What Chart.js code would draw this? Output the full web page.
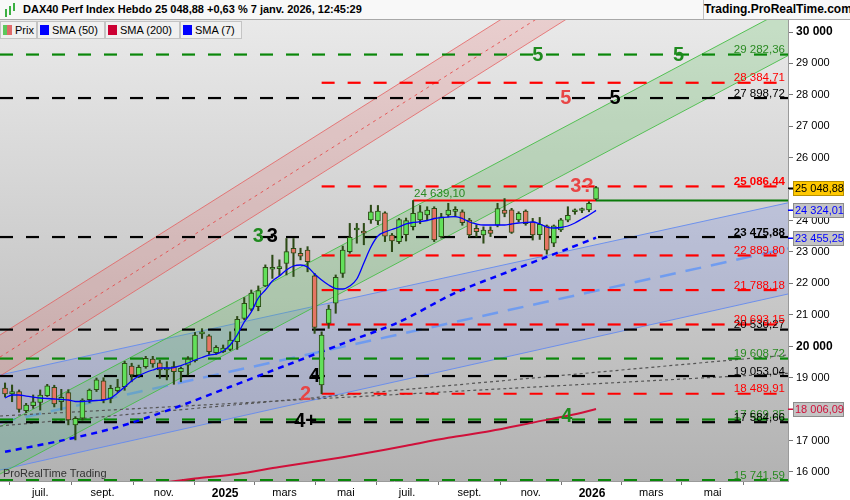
<!DOCTYPE html>
<html>
<head>
<meta charset="utf-8">
<script src="https://cdn.jsdelivr.net/npm/chart.js@4.4.1/dist/chart.umd.min.js"></script>
<style>
    body { margin: 0; background: #fff; font-family: "Liberation Sans", Arial, sans-serif; }
    #wrap { position: relative; width: 850px; height: 500px; overflow: hidden; }
    #c { position: absolute; left: 0; top: 0; }
    #hdr { position: absolute; left: 0; top: 0; width: 850px; height: 20px; background: #f8f8f8; border-bottom: 1px solid #a8a8a8; box-sizing: border-box; }
    #hdr .title { position: absolute; left: 23px; top: 3px; font-size: 11px; font-weight: bold; color: #000; white-space: nowrap; }
    #hdr .ico i { position: absolute; width: 2px; background: #3cb043; }
    #brand { position: absolute; right: 0; top: 0; width: 146px; height: 19px; background: #f8f8f8; border-left: 1px solid #c0c0c0; font-size: 12px; font-weight: bold; text-align: center; line-height: 19px; }
    #leg { position: absolute; left: 0; top: 21px; height: 18px; }
    #leg .b { position: absolute; top: 0; height: 18px; background: #f0f0f0; border: 1px solid #c4c4c4; box-sizing: border-box; font-size: 11px; line-height: 16px; padding-left: 14px; white-space: nowrap; }
    #leg .b s { position: absolute; left: 2px; top: 3px; width: 9px; height: 10px; }
    #wm { position: absolute; left: 3px; top: 467px; font-size: 11px; color: #333; }
</style>
</head>
<body>
<div id="wrap">
    <canvas id="c" width="850" height="500"></canvas>
    <div id="hdr">
        <span class="ico">
            <i style="left:5px;top:9px;height:8px"></i>
            <i style="left:9px;top:6px;height:9px"></i>
            <i style="left:13px;top:3px;height:8px"></i>
        </span>
        <span class="title">DAX40 Perf Index Hebdo 25 048,88 +0,63 % 7 janv. 2026, 12:45:29</span>
    </div>
    <div id="brand">Trading.ProRealTime.com</div>
    <div id="leg">
        <div class="b" style="left:0;width:37px"><s style="background:linear-gradient(90deg,#5cc85c 50%,#e06a6a 50%)"></s>Prix</div>
        <div class="b" style="left:37px;width:68px"><s style="background:#0000ff"></s>SMA (50)</div>
        <div class="b" style="left:105px;width:75px"><s style="background:#cc0033"></s>SMA (200)</div>
        <div class="b" style="left:180px;width:62px"><s style="background:#0000ff"></s>SMA (7)</div>
    </div>
    <div id="wm">ProRealTime Trading</div>
</div>
<script>
// weekly candles, first week starting 2024-05-27
const firstWeek = '2024-05-27';
const opens = [18672, 18481, 18555, 17950, 18110, 18217, 18430, 18694, 18237, 18524,
    17495, 17710, 18300, 18620, 18900, 18340, 18590, 18713, 19372, 19085,
    19350, 19595, 19470, 19250, 19350, 19190, 19400, 19540, 20390, 20330,
    19800, 19830, 19900, 20150, 20890, 21180, 21260, 21920, 22450, 22470,
    22640, 23120, 22960, 23060, 22240, 18770, 20730, 21370, 22320, 23010,
    23700, 23650, 24020, 23990, 24250, 23540, 23330, 23550, 23805, 24018,
    24180, 24390, 23490, 24180, 24290, 24280, 24018, 23750, 23540, 23700,
    23850, 24330, 24340, 24018, 24300, 23960, 23550, 23830, 23280, 23700,
    24010, 24280, 24320, 24336, 24677];
const highs = [18832, 18768, 18610, 18185, 18450, 18610, 18790, 18760, 18630, 18620,
    17760, 18330, 18640, 18990, 19000, 18760, 18950, 19520, 19460, 19400,
    19680, 19680, 19560, 19510, 19510, 19340, 19670, 20440, 20560, 20370,
    20020, 20040, 20460, 20950, 21550, 21790, 21920, 22590, 22900, 22750,
    23430, 23430, 23120, 23170, 22320, 20460, 21310, 22270, 23190, 23910,
    23910, 23910, 24490, 24480, 24280, 23590, 24070, 24080, 24639, 24480,
    24440, 24440, 24230, 24550, 24440, 24340, 24070, 23860, 23800, 23800,
    24550, 24700, 24390, 24280, 24340, 24070, 24100, 23860, 23860, 24070,
    24440, 24370, 24400, 24600, 25086];
const lows = [18386, 18236, 17900, 17885, 18025, 17970, 18400, 18070, 17970, 17500,
    17020, 17650, 18200, 18560, 18200, 18200, 18530, 18600, 18870, 19000,
    19300, 19330, 18980, 18930, 18790, 18870, 19085, 19500, 20250, 19740,
    19740, 19800, 19860, 19900, 20840, 21130, 21130, 21900, 22160, 22250,
    22270, 22220, 22750, 22370, 20410, 18490, 20570, 21050, 22190, 22960,
    23280, 23230, 23910, 23870, 23330, 23010, 23270, 23350, 23700, 23900,
    24018, 23330, 23440, 24120, 24120, 23850, 23480, 23480, 23280, 23490,
    23800, 24120, 23590, 23960, 23850, 23380, 23400, 22930, 23170, 23650,
    23960, 24200, 24250, 24280, 24650];
const closes = [18480, 18555, 17990, 18130, 18235, 18450, 18745, 18163, 18376, 17654,
    17708, 18290, 18610, 18930, 18300, 18660, 18700, 19457, 19085, 19330,
    19620, 19435, 19245, 19300, 19190, 19300, 19590, 20360, 20460, 19830,
    19970, 19940, 20200, 20860, 21370, 21690, 21770, 22510, 22510, 22530,
    23010, 22960, 22870, 22690, 20600, 20360, 21180, 22190, 23060, 23470,
    23750, 23600, 24280, 24300, 23500, 23350, 24030, 24000, 24230, 24280,
    24336, 23381, 24120, 24336, 24310, 23930, 23540, 23650, 23700, 23590,
    24380, 24230, 23620, 24230, 23900, 23540, 23880, 23060, 23830, 24020,
    24170, 24300, 24340, 24550, 25048.88];
const sma7 = [18354, 18449, 18449, 18417, 18385, 18354, 18338, 18322, 18306, 18290,
    18242, 18242, 18258, 18274, 18290, 18354, 18513, 18704, 18895, 19054,
    19165, 19245, 19308, 19308, 19324, 19388, 19468, 19563, 19643, 19722,
    19754, 19850, 20040, 20358, 20772, 21090, 21536, 21790, 22077, 22236,
    22427, 22554, 22586, 22522, 22300, 22109, 21950, 21838, 21822, 21918,
    22141, 22650, 23159, 23509, 23636, 23716, 23795, 23891, 23939, 23964,
    24002, 24066, 24097, 24113, 24123, 24066, 23954, 23891, 23859, 23859,
    23859, 23859, 23891, 23922, 23939, 23954, 23891, 23795, 23763, 23779,
    23827, 23922, 24050, 24177, 24324.01];

const sma50Dates = ['2024-05-27', '2024-07-22', '2024-09-16', '2024-11-11', '2025-01-06', '2025-03-03',
    '2025-04-28', '2025-06-23', '2025-08-18', '2025-10-13', '2025-12-08', '2026-01-05'];
const sma50 = [16642, 16998, 17428, 18029, 18711, 19398, 20085, 20772, 21700, 22411, 23104, 23455.25];
const sma200Dates = ['2024-10-21', '2024-12-02', '2025-01-13', '2025-02-24', '2025-04-07', '2025-05-19',
    '2025-06-30', '2025-08-11', '2025-09-22', '2025-11-03', '2025-12-15', '2026-01-05'];
const sma200 = [15620, 15789, 15936, 16158, 16362, 16585, 16836, 17087, 17304, 17571, 17835, 18006.09];

// horizontal levels
const greenLevels = [29282.36, 19608.72, 17669.35, 15741.59];
const blackLevels = [27898.72, 23475.88, 20530.27, 19053.04, 17584.66];
const redLevels = [28384.71, 25086.44, 22889.80, 21788.18, 20693.15, 18489.91];
const redLevelsFrom = '2025-04-07';
const resistance = 24639.10;
const resistanceFrom = '2025-07-07';
const lastWeek = '2026-01-05';
const lastPrice = 25048.88;

// channels: values at the left and right edge of the view
const viewFrom = '2024-05-22';
const viewTo = '2026-07-15';
const redUpper = [20358, 36155];
const redMid = [19658, 35455];
const redLower = [19054, 34851];
const greenUpper = [17440, 30753];
const greenLower = [15935, 29249];
const blueUpper = [19086, 24565];
const blueMid = [17574, 23114];
const blueLower = [16063, 21663];
const dotA = [17463, 19722];
const dotB = [17781, 19140];

const yTicks = [16000, 17000, 18000, 19000, 20000, 21000, 22000, 23000, 24000, 25000, 26000, 27000, 28000, 29000, 30000];
const monthTicks = ['2024-07-01', '2024-09-01', '2024-11-01', '2025-01-01', '2025-03-01', '2025-05-01',
    '2025-07-01', '2025-09-01', '2025-11-01', '2026-01-01', '2026-03-01', '2026-05-01', '2026-07-01'];
const monthLabels = ['juil.', 'sept.', 'nov.', '2025', 'mars', 'mai', 'juil.', 'sept.', 'nov.', '2026', 'mars', 'mai', ''];

const yMin = 15713, yMax = 30382;

const day = s => Date.parse(s + 'T00:00:00Z') / 864e5;
const weeks = opens.map((_, i) => day(firstWeek) + 7 * i);

function fmt(v, dec) {
    const parts = v.toFixed(dec).split('.');
    const ip = parts[0].replace(/\B(?=(\d{3})+(?!\d))/g, ' ');
    return parts[1] ? ip + ',' + parts[1] : ip;
}

const GREEN = '#0a870a', RED = '#ff0000', BLACK = '#000000';
const wickColor = '#2c4a16';
const upColor = '#62e05a', downColor = '#e57563';

function hline(v, from, to, color, dash, width, order) {
    return {
        type: 'line', data: [{x: day(from), y: v}, {x: day(to), y: v}],
        borderColor: color, borderWidth: width, borderDash: dash,
        pointRadius: 0, fill: false, order: order
    };
}

function sline(vals, color, width, dash, order, fill, bg) {
    return {
        type: 'line', data: [{x: day(viewFrom), y: vals[0]}, {x: day(viewTo), y: vals[1]}],
        borderColor: color, borderWidth: width, borderDash: dash || [],
        pointRadius: 0, fill: fill || false, backgroundColor: bg || 'transparent', order: order
    };
}

const datasets = [];
// channels (fill to the next dataset)
datasets.push(sline(blueUpper, 'rgba(100,140,240,0.9)', 1, null, 20, '+1', 'rgba(110,130,235,0.22)'));
datasets.push(sline(blueLower, 'rgba(100,140,240,0.9)', 1, null, 20));
datasets.push(sline(blueMid, 'rgba(100,150,245,0.85)', 2.5, [16, 10], 19));
datasets.push(sline(greenUpper, 'rgba(70,190,70,0.9)', 1, null, 18, '+1', 'rgba(90,190,90,0.25)'));
datasets.push(sline(greenLower, 'rgba(70,190,70,0.9)', 1, null, 18));
datasets.push(sline(redUpper, 'rgba(230,90,90,0.75)', 1, null, 17, '+1', 'rgba(230,110,110,0.22)'));
datasets.push(sline(redLower, 'rgba(230,90,90,0.75)', 1, null, 17));
datasets.push(sline(redMid, 'rgba(230,70,70,0.85)', 1, [3, 4], 16));
datasets.push(sline(dotA, '#555', 1.2, [3, 3], 15));
datasets.push(sline(dotB, '#555', 1.2, [3, 3], 15));

// levels
greenLevels.forEach(v => datasets.push(hline(v, viewFrom, viewTo, GREEN, [13, 13], 2.2, 10)));
blackLevels.forEach(v => datasets.push(hline(v, viewFrom, viewTo, BLACK, [13, 13], 2.2, 10)));
redLevels.forEach(v => datasets.push(hline(v, redLevelsFrom, viewTo, RED, [13, 13], 2.2, 10)));
datasets.push(hline(resistance, resistanceFrom, lastWeek, RED, [], 2.2, 9));
datasets.push(hline(resistance, lastWeek, viewTo, '#0a7a0a', [], 2.2, 9));

// moving averages
datasets.push({
    type: 'line', data: sma200Dates.map((d, i) => ({x: day(d), y: sma200[i]})),
    borderColor: '#d0103a', borderWidth: 2, pointRadius: 0, fill: false, tension: 0.3, order: 5
});
datasets.push({
    type: 'line', data: sma50Dates.map((d, i) => ({x: day(d), y: sma50[i]})),
    borderColor: '#0000ff', borderWidth: 2.5, borderDash: [6, 5], pointRadius: 0, fill: false, tension: 0.3, order: 4
});

// candles
datasets.push({
    type: 'bar', data: weeks.map((x, i) => ({x: x, y: [lows[i], highs[i]]})),
    backgroundColor: wickColor, barThickness: 1.4, grouped: false, order: 3
});
datasets.push({
    type: 'bar', data: weeks.map((x, i) => ({x: x, y: [opens[i], closes[i]]})),
    backgroundColor: weeks.map((_, i) => closes[i] >= opens[i] ? upColor : downColor),
    borderColor: wickColor, borderWidth: 1, borderSkipped: false, minBarLength: 2,
    barThickness: 5, grouped: false, order: 2
});
datasets.push({
    type: 'line', data: weeks.map((x, i) => ({x: x, y: sma7[i]})),
    borderColor: '#0000ff', borderWidth: 1.3, pointRadius: 0, fill: false,
    cubicInterpolationMode: 'monotone', order: 1
});

// wave annotations placed at chart coordinates
const waves = [
    {t: '3', d: '2025-02-03', v: 23500, c: '#1f8a1f'},
    {t: '3', d: '2025-02-17', v: 23500, c: BLACK},
    {t: '5', d: '2025-11-08', v: 29260, c: '#1f8a1f'},
    {t: '5', d: '2026-03-28', v: 29260, c: '#1f8a1f'},
    {t: '5', d: '2025-12-06', v: 27870, c: '#e84545'},
    {t: '5', d: '2026-01-24', v: 27870, c: BLACK},
    {t: '3?', d: '2025-12-22', v: 25100, c: '#e84545'},
    {t: '4', d: '2025-03-31', v: 19050, c: BLACK},
    {t: '2', d: '2025-03-22', v: 18470, c: '#e84545'},
    {t: '4+', d: '2025-03-22', v: 17620, c: BLACK},
    {t: '4', d: '2025-12-07', v: 17770, c: '#1f8a1f'}
];

const overlay = {
    id: 'overlay',
    beforeDraw(chart) {
        const {ctx, chartArea: a} = chart;
        const g = ctx.createLinearGradient(0, a.top, 0, a.bottom);
        g.addColorStop(0, '#e9e9e9');
        g.addColorStop(1, '#b2b2b2');
        ctx.save();
        ctx.fillStyle = g;
        ctx.fillRect(a.left, a.top, a.right - a.left, a.bottom - a.top);
        ctx.restore();
    },
    afterDatasetsDraw(chart) {
        const {ctx, chartArea: a, scales: {x, y}} = chart;
        ctx.save();
        ctx.beginPath();
        ctx.rect(a.left, a.top, a.right - a.left, a.bottom - a.top);
        ctx.clip();
        ctx.textAlign = 'right';
        ctx.textBaseline = 'alphabetic';
        const labels = [];
        greenLevels.forEach(v => labels.push([v, '#2a8a22', false]));
        blackLevels.forEach(v => labels.push([v, BLACK, v === 23475.88]));
        redLevels.forEach(v => labels.push([v, RED, v === 25086.44]));
        labels.forEach(([v, c, b]) => {
            ctx.font = (b ? 'bold ' : '') + '11.5px "Liberation Sans", Arial';
            ctx.fillStyle = c;
            ctx.fillText(fmt(v, 2), a.right - 3, y.getPixelForValue(v) - 1.5);
        });
        ctx.textAlign = 'left';
        ctx.font = '11.5px "Liberation Sans", Arial';
        ctx.fillStyle = '#2a8a22';
        ctx.fillText(fmt(resistance, 2), x.getPixelForValue(day(resistanceFrom)) + 1, y.getPixelForValue(resistance) - 3);

        ctx.textAlign = 'center';
        ctx.textBaseline = 'middle';
        ctx.font = 'bold 20px "Liberation Sans", Arial';
        waves.forEach(w => {
            ctx.fillStyle = w.c;
            ctx.fillText(w.t, x.getPixelForValue(day(w.d)), y.getPixelForValue(w.v));
        });
        ctx.restore();
    },
    afterDraw(chart) {
        const {ctx, chartArea: a, scales: {y}} = chart;
        ctx.save();
        ctx.font = '11px "Liberation Sans", Arial';
        ctx.textBaseline = 'middle';
        ctx.textAlign = 'left';
        const boxes = [
            [lastPrice, '#ffc800', '#b89000', '#000000'],
            [sma7[sma7.length - 1], '#c4c4c4', '#8c8c8c', '#0000ff'],
            [sma50[sma50.length - 1], '#c4c4c4', '#8c8c8c', '#0000ff'],
            [sma200[sma200.length - 1], '#c4c4c4', '#8c8c8c', '#d0103a']
        ];
        boxes.forEach(([v, bg, bd, tc]) => {
            const py = Math.round(y.getPixelForValue(v));
            ctx.fillStyle = tc;
            ctx.fillRect(a.right, py - 0.5, 5, 1.5);
            ctx.fillStyle = bg;
            ctx.fillRect(793, py - 7, 51, 15);
            ctx.strokeStyle = bd;
            ctx.lineWidth = 1;
            ctx.strokeRect(793.5, py - 6.5, 50, 14);
            ctx.fillStyle = tc;
            ctx.fillText(fmt(v, 2), 795, py + 1);
        });
        ctx.restore();
    }
};

new Chart(document.getElementById('c'), {
    type: 'line',
    data: {datasets: datasets},
    options: {
        responsive: false,
        animation: false,
        devicePixelRatio: 1,
        layout: {padding: {top: 20, left: 0, right: 0, bottom: 0}},
        plugins: {legend: {display: false}, tooltip: {enabled: false}},
        scales: {
            x: {
                type: 'linear', offset: false,
                min: day(viewFrom), max: day(viewTo),
                afterBuildTicks: s => { s.ticks = monthTicks.map(d => ({value: day(d)})); },
                afterFit: s => { s.height = 19; },
                grid: {drawOnChartArea: false, drawTicks: true, tickLength: 4, color: '#777'},
                border: {display: true, color: '#9a9a9a'},
                ticks: {
                    autoSkip: false, maxRotation: 0, padding: 1, color: '#000',
                    font: c => ({family: '"Liberation Sans", Arial', size: (c.index === 3 || c.index === 9) ? 12 : 11,
                        weight: (c.index === 3 || c.index === 9) ? 'bold' : 'normal'}),
                    callback: (v, i) => monthLabels[i]
                }
            },
            y: {
                type: 'linear', position: 'right',
                min: yMin, max: yMax,
                afterBuildTicks: s => { s.ticks = yTicks.map(v => ({value: v})); },
                afterFit: s => { s.width = 62; },
                grid: {drawOnChartArea: false, drawTicks: true, tickLength: 5, color: '#777'},
                border: {display: true, color: '#9a9a9a'},
                ticks: {
                    autoSkip: false, padding: 3, color: '#000',
                    font: c => ({family: '"Liberation Sans", Arial', size: (c.tick && c.tick.value % 10000 === 0) ? 12 : 11,
                        weight: (c.tick && c.tick.value % 10000 === 0) ? 'bold' : 'normal'}),
                    callback: v => fmt(v, 0)
                }
            }
        }
    },
    plugins: [overlay]
});
</script>
</body>
</html>
